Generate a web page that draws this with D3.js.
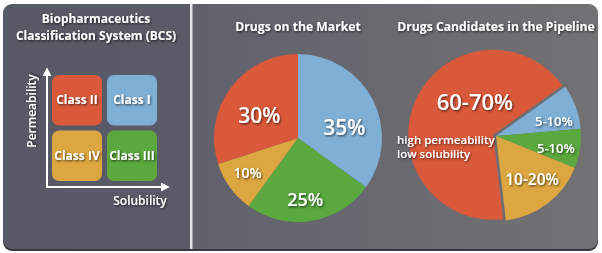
<!DOCTYPE html>
<html lang="en">
<head>
<meta charset="UTF-8">
<title>BCS drug classes</title>
<script src="https://d3js.org/d3.v7.min.js"></script>
<style>
  body { margin: 0; background: #fff; }
  text { font-family: "Open Sans", sans-serif; fill: #fff; }
</style>
</head>
<body>
<script>
// BCS grid
var classNames = ["Class II", "Class I", "Class IV", "Class III"];
var solubility = ["low", "high", "low", "high"];
var permeability = ["high", "high", "low", "low"];
var classColors = {"Class I": "#7fafd5", "Class II": "#da593a", "Class III": "#5aa83e", "Class IV": "#dca640"};

// drugs on the market
var marketClasses = ["Class I", "Class III", "Class IV", "Class II"];
var marketValues = [35, 25, 10, 30];
var marketLabels = ["35%", "25%", "10%", "30%"];

// pipeline candidates
var pipeClasses = ["Class I", "Class III", "Class IV", "Class II"];
var pipeValues = [8.5, 7.5, 17, 67];
var pipeLabels = ["5-10%", "5-10%", "10-20%", "60-70%"];
var pipeNote = ["high permeability", "low solubility"];

var width = 602, height = 253;

var svg = d3.select("body").append("svg")
    .attr("width", width)
    .attr("height", height);

var defs = svg.append("defs");
var shadow = defs.append("filter").attr("id", "ts")
    .attr("x", "-20%").attr("y", "-20%").attr("width", "140%").attr("height", "140%");
shadow.append("feDropShadow")
    .attr("dx", 1).attr("dy", 1.2).attr("stdDeviation", 0.9)
    .attr("flood-color", "#000").attr("flood-opacity", 0.65);

var bg = defs.append("linearGradient").attr("id", "bg");
bg.append("stop").attr("offset", "0").attr("stop-color", "#585966");
bg.append("stop").attr("offset", "0.316").attr("stop-color", "#5a5b68");
bg.append("stop").attr("offset", "0.316").attr("stop-color", "#60616c");
bg.append("stop").attr("offset", "1").attr("stop-color", "#727274");

// panel
svg.append("rect").attr("x", 3).attr("y", 6).attr("width", 595).attr("height", 245)
    .attr("rx", 9).attr("fill", "#38383e");
svg.append("rect").attr("x", 3).attr("y", 4).attr("width", 595).attr("height", 245)
    .attr("rx", 9).attr("fill", "url(#bg)");
svg.append("rect").attr("x", 190).attr("y", 4).attr("width", 2.5).attr("height", 245)
    .attr("fill", "#e4e4ec");

// ---- left: BCS grid ----
var left = svg.append("g");
left.selectAll(".title").data(["Biopharmaceutics", "Classification System (BCS)"])
    .enter().append("text")
    .attr("x", 96).attr("y", function (d, i) { return 23 + i * 17; })
    .attr("text-anchor", "middle")
    .attr("font-size", 12).attr("font-weight", 700)
    .attr("filter", "url(#ts)")
    .text(function (d) { return d; });

var xS = d3.scaleBand().domain(["low", "high"]).range([52, 157]).paddingInner(0.09);
var yS = d3.scaleBand().domain(["high", "low"]).range([75, 181]).paddingInner(0.09);

var cells = left.selectAll(".cell").data(classNames).enter().append("g");
cells.append("rect")
    .attr("x", function (d, i) { return xS(solubility[i]); })
    .attr("y", function (d, i) { return yS(permeability[i]); })
    .attr("width", xS.bandwidth())
    .attr("height", yS.bandwidth())
    .attr("rx", 7)
    .attr("fill", function (d) { return classColors[d]; });
cells.append("text")
    .attr("x", function (d, i) { return xS(solubility[i]) + xS.bandwidth() / 2; })
    .attr("y", function (d, i) { return yS(permeability[i]) + yS.bandwidth() / 2; })
    .attr("dy", "0.35em")
    .attr("text-anchor", "middle")
    .attr("font-size", 12).attr("font-weight", 700)
    .attr("filter", "url(#ts)")
    .text(function (d) { return d; });

var arrow = defs.append("marker").attr("id", "arr")
    .attr("viewBox", "0 0 10 10").attr("refX", 8).attr("refY", 5)
    .attr("markerWidth", 4.5).attr("markerHeight", 4.5).attr("orient", "auto");
arrow.append("path").attr("d", "M0,0L10,5L0,10z").attr("fill", "#fff");

left.append("line").attr("x1", 47).attr("y1", 188).attr("x2", 47).attr("y2", 69)
    .attr("stroke", "#fff").attr("stroke-width", 2).attr("marker-end", "url(#arr)");
left.append("line").attr("x1", 46).attr("y1", 187).attr("x2", 168).attr("y2", 187)
    .attr("stroke", "#fff").attr("stroke-width", 2).attr("marker-end", "url(#arr)");

left.append("text")
    .attr("transform", "translate(32,111) rotate(-90)")
    .attr("text-anchor", "middle").attr("dy", "0.35em")
    .attr("font-size", 12).attr("font-weight", 600)
    .attr("filter", "url(#ts)")
    .text("Permeability");
left.append("text")
    .attr("x", 140).attr("y", 201).attr("dy", "0.35em")
    .attr("text-anchor", "middle")
    .attr("font-size", 12).attr("font-weight", 600)
    .attr("filter", "url(#ts)")
    .text("Solubility");

// ---- pies ----
function drawPie(opt) {
    var g = svg.append("g").attr("transform", "translate(" + opt.cx + "," + opt.cy + ")");
    var pie = d3.pie().sort(null).value(function (d) { return d.v; })
        .startAngle(opt.start).endAngle(opt.start + 2 * Math.PI);
    var arcs = pie(opt.data);
    var arc = d3.arc().innerRadius(0).outerRadius(opt.r);
    var labelArc = d3.arc().innerRadius(opt.r * 0.7).outerRadius(opt.r * 0.7);

    var slices = g.selectAll(".slice").data(arcs).enter().append("g")
        .attr("transform", function (d) {
            var off = d.data.explode || 0;
            var a = (d.startAngle + d.endAngle) / 2;
            return "translate(" + (Math.sin(a) * off) + "," + (-Math.cos(a) * off) + ")";
        });
    slices.append("path")
        .attr("d", arc)
        .attr("fill", function (d) { return classColors[d.data.c]; });
    slices.append("text")
        .attr("transform", function (d) {
            var p = labelArc.centroid(d);
            return "translate(" + (p[0] + d.data.nx) + "," + (p[1] + d.data.ny) + ")";
        })
        .attr("text-anchor", "middle").attr("dy", "0.36em")
        .attr("font-size", function (d) { return d.data.fs; })
        .attr("font-weight", 600)
        .attr("filter", "url(#ts)")
        .text(function (d) { return d.data.t; });

    svg.append("text")
        .attr("x", opt.cx).attr("y", 31)
        .attr("text-anchor", "middle")
        .attr("font-size", 12.2).attr("font-weight", 700)
        .attr("filter", "url(#ts)")
        .text(opt.title);
    return g;
}

var marketFont = [21, 18, 14, 21];
var marketNudge = [[-6, 16], [-2, 3], [-3, 0], [9, 12]];
drawPie({
    cx: 298, cy: 138, r: 84, start: 0,
    title: "Drugs on the Market",
    data: marketValues.map(function (v, i) {
        return {v: v, c: marketClasses[i], t: marketLabels[i], fs: marketFont[i],
            nx: marketNudge[i][0], ny: marketNudge[i][1]};
    })
});

var pipeFont = [13, 13, 15.5, 22];
var pipeNudge = [[2, 6], [1, 3], [0, -4], [36, -9]];
var pg = drawPie({
    cx: 496, cy: 136, r: 85, start: 54.5 * Math.PI / 180,
    title: "Drugs Candidates in the Pipeline",
    data: pipeValues.map(function (v, i) {
        return {v: v, c: pipeClasses[i], t: pipeLabels[i], fs: pipeFont[i],
            nx: pipeNudge[i][0], ny: pipeNudge[i][1], explode: i === 3 ? 3 : 0};
    })
});
pg.selectAll(".note").data(pipeNote).enter().append("text")
    .attr("x", -99).attr("y", function (d, i) { return 4 + i * 14; })
    .attr("dy", "0.32em")
    .attr("font-size", 11.5).attr("font-weight", 600)
    .attr("filter", "url(#ts)")
    .text(function (d) { return d; });
</script>
</body>
</html>
